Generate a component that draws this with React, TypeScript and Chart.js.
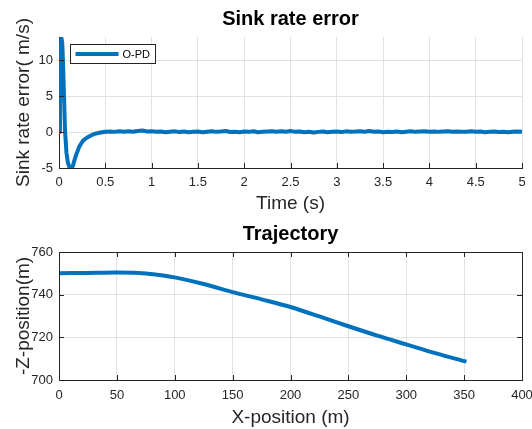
import React, { useEffect, useRef } from 'react';
import { Chart, registerables } from 'chart.js';

Chart.register(...registerables);

const FONT = 'Arial, "Liberation Sans", Helvetica, sans-serif';
const LINE_COLOR = '#0072BD';
const AXIS_COLOR = '#262626';
const GRID_COLOR = '#e2e2e2';

// ---------- Top panel: sink rate error ----------
const sinkTitle = 'Sink rate error';
const sinkXLabel = 'Time (s)';
const sinkYLabel = 'Sink rate error( m/s)';
const sinkSeriesName = 'O-PD';
const sinkXRange = [0, 5];
const sinkYRange = [-5, 13.2];
const sinkXTicks = [0, 0.5, 1, 1.5, 2, 2.5, 3, 3.5, 4, 4.5, 5];
const sinkYTicks = [-5, 0, 5, 10];

const sinkTime = [
  0, 0.01, 0.02, 0.027, 0.035, 0.045, 0.055, 0.065, 0.08, 0.095, 0.11, 0.125, 0.137, 0.15, 0.17, 0.19,
  0.22, 0.26, 0.3, 0.35, 0.4, 0.45,
  0.5, 0.55, 0.6, 0.65, 0.7, 0.75, 0.8, 0.85, 0.9, 0.95,
  1.0, 1.05, 1.1, 1.15, 1.2, 1.25, 1.3, 1.35, 1.4, 1.45,
  1.5, 1.55, 1.6, 1.65, 1.7, 1.75, 1.8, 1.85, 1.9, 1.95,
  2.0, 2.05, 2.1, 2.15, 2.2, 2.25, 2.3, 2.35, 2.4, 2.45,
  2.5, 2.55, 2.6, 2.65, 2.7, 2.75, 2.8, 2.85, 2.9, 2.95,
  3.0, 3.05, 3.1, 3.15, 3.2, 3.25, 3.3, 3.35, 3.4, 3.45,
  3.5, 3.55, 3.6, 3.65, 3.7, 3.75, 3.8, 3.85, 3.9, 3.95,
  4.0, 4.05, 4.1, 4.15, 4.2, 4.25, 4.3, 4.35, 4.4, 4.45,
  4.5, 4.55, 4.6, 4.65, 4.7, 4.75, 4.8, 4.85, 4.9, 4.95, 5.0,
];
const sinkError = [
  0, 6.5, 11.8, 13.0, 12.4, 9.0, 4.5, 0.2, -2.8, -4.2, -4.8, -5.0, -5.05, -4.7, -3.8, -3.0,
  -2.0, -1.2, -0.8, -0.45, -0.2, -0.08,
  0.03, 0.08, 0.02, 0.1, 0.05, 0.12, 0.04, 0.15, 0.2, 0.06,
  0.1, 0.03, 0.08, -0.02, 0.05, 0.09, 0.0, 0.06, -0.03, 0.04,
  0.07, -0.02, 0.05, 0.1, 0.02, 0.06, 0.14, 0.01, 0.05, -0.04,
  0.06, 0.02, 0.1, -0.03, 0.04, 0.08, 0.12, 0.03, 0.09, 0.05,
  0.13, 0.02, 0.07, -0.04, 0.03, -0.06, 0.02, 0.08, -0.03, 0.04,
  0.07, 0.01, 0.09, 0.03, 0.06, 0.12, 0.05, 0.15, 0.04, 0.08,
  -0.02, 0.05, 0.01, 0.07, -0.03, 0.04, 0.09, 0.02, 0.06, 0.1,
  0.03, 0.08, 0.02, 0.06, 0.11, 0.04, 0.07, 0.02, 0.05, 0.1,
  0.03, 0.06, -0.02, 0.04, 0.08, 0.01, 0.05, -0.03, 0.04, 0.07, 0.02,
];

// ---------- Bottom panel: trajectory ----------
const trajTitle = 'Trajectory';
const trajXLabel = 'X-position (m)';
const trajYLabel = '-Z-position(m)';
const trajXRange = [0, 400];
const trajYRange = [700, 760];
const trajXTicks = [0, 50, 100, 150, 200, 250, 300, 350, 400];
const trajYTicks = [700, 720, 740, 760];
const trajX = [0, 25, 50, 65, 75, 90, 100, 125, 150, 175, 200, 225, 250, 275, 300, 325, 352];
const trajZ = [750, 750.2, 750.4, 750.3, 749.9, 749.0, 748.1, 745.0, 741.2, 737.8, 734.2, 729.8, 725.2, 720.8, 716.7, 712.6, 708.6];

// canvas is drawn a bit wider than the window so the last tick label is cut at the edge, as in the figure
const CANVAS_W = 545;
const PLOT_RIGHT_GAP = CANVAS_W - 522;

// ---------- plugins ----------
const inwardTicks = {
  id: 'inwardTicks',
  afterDatasetsDraw(chart: any, _args: any, opts: any) {
    const { ctx, chartArea: a, scales } = chart;
    const len = opts.length ?? 5;
    ctx.save();
    ctx.strokeStyle = AXIS_COLOR;
    ctx.lineWidth = 1;
    ctx.beginPath();
    const xs = scales.x;
    const ys = scales.y;
    xs.ticks.forEach((_t: any, i: number) => {
      const px = Math.round(xs.getPixelForTick(i)) + 0.5;
      ctx.moveTo(px, a.bottom);
      ctx.lineTo(px, a.bottom - len);
      if (opts.box) {
        ctx.moveTo(px, a.top);
        ctx.lineTo(px, a.top + len);
      }
    });
    ys.ticks.forEach((_t: any, i: number) => {
      const py = Math.round(ys.getPixelForTick(i)) + 0.5;
      ctx.moveTo(a.left, py);
      ctx.lineTo(a.left + len, py);
      if (opts.box) {
        ctx.moveTo(a.right, py);
        ctx.lineTo(a.right - len, py);
      }
    });
    ctx.stroke();
    if (opts.box) {
      ctx.strokeRect(Math.round(a.left) + 0.5, Math.round(a.top) + 0.5, Math.round(a.right - a.left), Math.round(a.bottom - a.top));
    }
    ctx.restore();
  },
};

const insetLegend = {
  id: 'insetLegend',
  afterDraw(chart: any, _args: any, opts: any) {
    if (!opts || !opts.display) return;
    const { ctx, chartArea: a } = chart;
    const ds = chart.data.datasets[0];
    const x = Math.round(a.left + opts.offsetX) + 0.5;
    const y = Math.round(a.top + opts.offsetY) + 0.5;
    ctx.save();
    ctx.font = `11px ${FONT}`;
    const tw = ctx.measureText(ds.label).width;
    const sample = opts.sampleLength;
    const w = Math.round(5 + sample + 4 + tw + 5);
    const h = 19;
    ctx.fillStyle = '#ffffff';
    ctx.fillRect(x, y, w, h);
    ctx.strokeStyle = AXIS_COLOR;
    ctx.lineWidth = 1;
    ctx.strokeRect(x, y, w, h);
    ctx.strokeStyle = ds.borderColor;
    ctx.lineWidth = ds.borderWidth;
    ctx.beginPath();
    ctx.moveTo(x + 5, y + h / 2);
    ctx.lineTo(x + 5 + sample, y + h / 2);
    ctx.stroke();
    ctx.fillStyle = '#000000';
    ctx.textBaseline = 'middle';
    ctx.textAlign = 'left';
    ctx.fillText(ds.label, x + 5 + sample + 4, y + h / 2 + 0.5);
    ctx.restore();
  },
};

function makeAxis(range: number[], ticks: number[], label: string, isX: boolean, size: number, titlePad: any, tickPad: number) {
  return {
    type: 'linear',
    min: range[0],
    max: range[1],
    afterBuildTicks: (s: any) => {
      s.ticks = ticks.map((v) => ({ value: v }));
    },
    afterFit: (s: any) => {
      if (isX) s.height = size;
      else s.width = size;
    },
    grid: { color: GRID_COLOR, lineWidth: 1, drawTicks: false },
    border: { display: true, color: AXIS_COLOR, width: 1 },
    ticks: {
      font: { family: FONT, size: 13 },
      color: AXIS_COLOR,
      padding: tickPad,
      maxRotation: 0,
      autoSkip: false,
      callback: (v: any) => String(v),
    },
    title: {
      display: true,
      text: label,
      font: { family: FONT, size: 19 },
      color: AXIS_COLOR,
      padding: titlePad,
    },
  };
}

function makeConfig(opts: {
  title: string; xs: number[]; ys: number[]; label: string;
  xRange: number[]; yRange: number[]; xTicks: number[]; yTicks: number[];
  xLabel: string; yLabel: string; box: boolean; legend: boolean; xAxisHeight: number;
  xTitlePad: any; xTickPad: number; smooth: boolean;
}): any {
  return {
    type: 'line',
    data: {
      datasets: [
        {
          label: opts.label,
          data: opts.xs.map((x, i) => ({ x, y: opts.ys[i] })),
          borderColor: LINE_COLOR,
          backgroundColor: LINE_COLOR,
          borderWidth: 4,
          pointRadius: 0,
          tension: opts.smooth ? 0.4 : 0,
          cubicInterpolationMode: opts.smooth ? 'monotone' : 'default',
          borderJoinStyle: 'round',
          borderCapStyle: 'butt',
          fill: false,
        },
      ],
    },
    options: {
      responsive: false,
      animation: false,
      devicePixelRatio: 1,
      layout: { padding: { left: 0, right: PLOT_RIGHT_GAP, top: 0, bottom: 0 } },
      plugins: {
        legend: { display: false },
        tooltip: { enabled: false },
        title: {
          display: true,
          text: opts.title,
          fullSize: false,
          color: '#000000',
          font: { family: FONT, size: 20, weight: 'bold' },
          padding: { top: 7, bottom: 6 },
        },
        inwardTicks: { box: opts.box, length: 5 },
        insetLegend: { display: opts.legend, offsetX: 11, offsetY: 7, sampleLength: 43 },
      },
      scales: {
        x: makeAxis(opts.xRange, opts.xTicks, opts.xLabel, true, opts.xAxisHeight, opts.xTitlePad, opts.xTickPad),
        y: makeAxis(opts.yRange, opts.yTicks, opts.yLabel, false, 59, { top: 12, bottom: 0 }, 6),
      },
    },
    plugins: [inwardTicks, insetLegend],
  };
}

export default function App() {
  const topRef = useRef<HTMLCanvasElement | null>(null);
  const botRef = useRef<HTMLCanvasElement | null>(null);

  useEffect(() => {
    const top = new Chart(
      topRef.current as HTMLCanvasElement,
      makeConfig({
        title: sinkTitle, xs: sinkTime, ys: sinkError, label: sinkSeriesName,
        xRange: sinkXRange, yRange: sinkYRange, xTicks: sinkXTicks, yTicks: sinkYTicks,
        xLabel: sinkXLabel, yLabel: sinkYLabel, box: false, legend: true, xAxisHeight: 47,
        xTitlePad: { top: 0, bottom: 0 }, xTickPad: 7, smooth: false,
      })
    );
    const bot = new Chart(
      botRef.current as HTMLCanvasElement,
      makeConfig({
        title: trajTitle, xs: trajX, ys: trajZ, label: 'Trajectory',
        xRange: trajXRange, yRange: trajYRange, xTicks: trajXTicks, yTicks: trajYTicks,
        xLabel: trajXLabel, yLabel: trajYLabel, box: true, legend: false, xAxisHeight: 49,
        xTitlePad: { top: 0, bottom: 0 }, xTickPad: 8, smooth: true,
      })
    );
    return () => {
      top.destroy();
      bot.destroy();
    };
  }, []);

  return (
    <div style={{ position: 'absolute', left: 0, top: 0, width: 532, height: 429, overflow: 'hidden', background: '#ffffff' }}>
      <canvas ref={topRef} width={CANVAS_W} height={215} style={{ position: 'absolute', left: 0, top: 0, width: CANVAS_W, height: 215 }} />
      <canvas ref={botRef} width={CANVAS_W} height={214} style={{ position: 'absolute', left: 0, top: 215, width: CANVAS_W, height: 214 }} />
    </div>
  );
}
